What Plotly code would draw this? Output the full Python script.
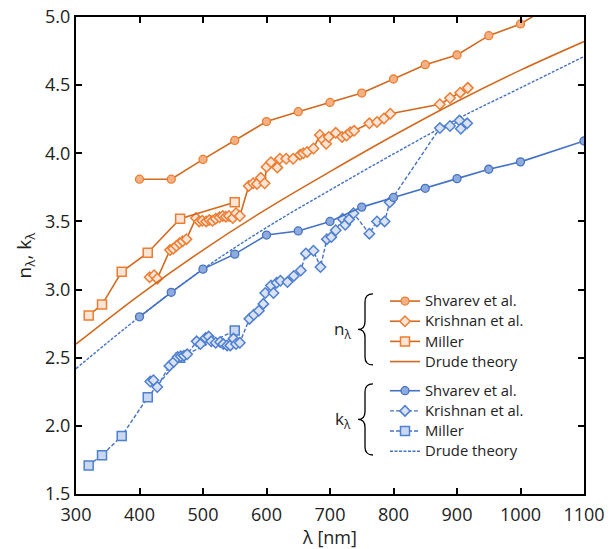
import plotly.graph_objects as go

# ---------------- data ----------------
lam_shv_n = [400, 450, 500, 550, 600, 650, 700, 750, 800, 850, 900, 950, 1000, 1050]
n_shv = [3.81, 3.81, 3.955, 4.094, 4.233, 4.305, 4.373, 4.442, 4.545, 4.65, 4.721, 4.863, 4.949, 5.09]

lam_shv_k = [400, 450, 500, 550, 600, 650, 700, 750, 800, 850, 900, 950, 1000, 1100]
k_shv = [2.80, 2.98, 3.15, 3.26, 3.40, 3.43, 3.50, 3.605, 3.676, 3.743, 3.814, 3.883, 3.937, 4.09]

lam_kri_n = [416, 423, 428, 448, 453, 458, 463, 468, 474, 489, 494, 499, 505, 510, 515, 520, 526, 531,
             536, 541, 547, 552, 558, 572, 579, 585, 591, 597, 600, 607, 617, 621, 631, 642, 653, 658,
             664, 674, 684, 689, 694, 698, 709, 719, 726, 732, 738, 762, 774, 785, 795, 873, 889, 905, 917]
n_kri = [3.09, 3.105, 3.08, 3.29, 3.30, 3.32, 3.34, 3.355, 3.37, 3.525, 3.50, 3.505, 3.50, 3.51, 3.505,
         3.52, 3.53, 3.54, 3.535, 3.54, 3.525, 3.56, 3.54, 3.76, 3.78, 3.775, 3.82, 3.78, 3.90, 3.935,
         3.895, 3.96, 3.96, 3.96, 3.99, 4.00, 4.01, 4.035, 4.135, 4.10, 4.07, 4.12, 4.15, 4.12, 4.13,
         4.155, 4.165, 4.22, 4.23, 4.255, 4.29, 4.36, 4.405, 4.445, 4.48]

lam_kri_k = [417, 422, 428, 447, 454, 460, 465, 470, 475, 490, 496, 504, 509, 513, 520, 527, 532, 538,
             543, 548, 552, 558, 573, 580, 588, 595, 598, 607, 611, 616, 622, 633, 643, 654, 662, 674,
             685, 695, 702, 709, 720, 724, 730, 737, 762, 774, 786, 794, 873, 889, 904, 906, 916]
k_kri = [2.325, 2.335, 2.285, 2.44, 2.47, 2.505, 2.51, 2.515, 2.525, 2.62, 2.60, 2.645, 2.655, 2.62,
         2.61, 2.615, 2.60, 2.59, 2.59, 2.64, 2.60, 2.61, 2.785, 2.815, 2.845, 2.895, 2.975, 3.03,
         2.975, 3.05, 3.065, 3.055, 3.10, 3.14, 3.265, 3.285, 3.165, 3.37, 3.385, 3.435, 3.52, 3.475,
         3.515, 3.56, 3.41, 3.50, 3.50, 3.64, 4.185, 4.20, 4.24, 4.18, 4.22]

lam_mil = [320, 341, 372, 413, 464, 550]
n_mil = [2.81, 2.89, 3.13, 3.27, 3.52, 3.64]
k_mil = [1.71, 1.785, 1.925, 2.21, 2.50, 2.70]

lam_dru = [300, 400, 500, 600, 700, 800, 900, 1000, 1100]
n_dru = [2.60, 2.96, 3.29, 3.59, 3.865, 4.13, 4.38, 4.61, 4.82]
k_dru = [2.42, 2.80, 3.15, 3.455, 3.73, 3.995, 4.25, 4.48, 4.71]

x_ticks = [300, 400, 500, 600, 700, 800, 900, 1000, 1100]
y_ticks = [1.5, 2.0, 2.5, 3.0, 3.5, 4.0, 4.5, 5.0]

# ---------------- styles ----------------
FONT = "Open Sans"
OR_LINE = "#D2691E"
OR_EDGE = "#ED7D31"
BL_LINE = "#4472C4"
BL_EDGE = "#4F7FD0"


def lbl(t):
    return "<span style='font-size:14.8px'>" + t + "</span>"


fig = go.Figure()

# n group
fig.add_trace(go.Scatter(x=lam_shv_n, y=n_shv, mode="lines+markers", name=lbl("Shvarev et al."),
                         legendgroup="n", legendrank=1,
                         line=dict(color=OR_LINE, width=1.6),
                         marker=dict(symbol="circle", size=8, color="#F4B183",
                                     line=dict(color=OR_EDGE, width=1.3))))
fig.add_trace(go.Scatter(x=lam_kri_n, y=n_kri, mode="lines+markers", name=lbl("Krishnan et al."),
                         legendgroup="n", legendrank=2,
                         line=dict(color=OR_LINE, width=1.6),
                         marker=dict(symbol="diamond", size=8, color="#FCE4D6",
                                     line=dict(color=OR_EDGE, width=1.5))))
fig.add_trace(go.Scatter(x=lam_mil, y=n_mil, mode="lines+markers", name=lbl("Miller"),
                         legendgroup="n", legendrank=3,
                         line=dict(color=OR_LINE, width=1.6),
                         marker=dict(symbol="square", size=9, color="#FBE5D6",
                                     line=dict(color=OR_EDGE, width=1.5))))
fig.add_trace(go.Scatter(x=lam_dru, y=n_dru, mode="lines", name=lbl("Drude theory"),
                         legendgroup="n", legendrank=4, line_shape="spline",
                         line=dict(color=OR_LINE, width=1.6)))

# k group
fig.add_trace(go.Scatter(x=lam_dru, y=k_dru, mode="lines", name=lbl("Drude theory"),
                         legendgroup="k", legendrank=8, line_shape="spline",
                         line=dict(color=BL_LINE, width=1.4, dash="3px,1.5px")))
fig.add_trace(go.Scatter(x=lam_mil, y=k_mil, mode="lines+markers", name=lbl("Miller"),
                         legendgroup="k", legendrank=7,
                         line=dict(color=BL_LINE, width=1.4, dash="4px,2px"),
                         marker=dict(symbol="square", size=9, color="#C9D7EF",
                                     line=dict(color=BL_EDGE, width=1.5))))
fig.add_trace(go.Scatter(x=lam_kri_k, y=k_kri, mode="lines+markers", name=lbl("Krishnan et al."),
                         legendgroup="k", legendrank=6,
                         line=dict(color=BL_LINE, width=1.4, dash="4px,2px"),
                         marker=dict(symbol="diamond", size=8, color="#DAE3F3",
                                     line=dict(color=BL_EDGE, width=1.5))))
fig.add_trace(go.Scatter(x=lam_shv_k, y=k_shv, mode="lines+markers", name=lbl("Shvarev et al."),
                         legendgroup="k", legendrank=5,
                         line=dict(color=BL_LINE, width=1.6),
                         marker=dict(symbol="circle", size=8, color="#8FAADC",
                                     line=dict(color=BL_LINE, width=1.3))))

# ---------------- braces (legend decoration) ----------------
def px2x(px):
    return 300 + (px - 76) / 0.635


def py2y(py):
    return 5 - (py - 17.3) / 136.2


def brace(top_py, bot_py, xl_px=358, xm_px=365, xr_px=373, c_px=8):
    mid = (top_py + bot_py) / 2
    xr, xm, xl = px2x(xr_px), px2x(xm_px), px2x(xl_px)
    yt, yb, ym = py2y(top_py), py2y(bot_py), py2y(mid)
    c = c_px / 136.2
    return (f"M {xr},{yt} Q {xm},{yt} {xm},{yt - c} L {xm},{ym + c} "
            f"Q {xm},{ym} {xl},{ym} Q {xm},{ym} {xm},{ym - c} L {xm},{yb + c} "
            f"Q {xm},{yb} {xr},{yb}")


shapes = [
    dict(type="path", xref="x", yref="y", path=brace(294, 365), line=dict(color="black", width=1.3)),
    dict(type="path", xref="x", yref="y", path=brace(384, 455), line=dict(color="black", width=1.3)),
]

annotations = [
    dict(x=px2x(353), y=py2y(329.5), xref="x", yref="y", text="n<sub>λ</sub>", showarrow=False,
         xanchor="right", yanchor="middle", font=dict(family=FONT, size=17, color="#222")),
    dict(x=px2x(353), y=py2y(419.5), xref="x", yref="y", text="k<sub>λ</sub>", showarrow=False,
         xanchor="right", yanchor="middle", font=dict(family=FONT, size=17, color="#222")),
]

fig.update_layout(
    width=613, height=549,
    margin=dict(l=76, r=29, t=17, b=55),
    paper_bgcolor="white", plot_bgcolor="white",
    font=dict(family=FONT, color="#222"),
    shapes=shapes, annotations=annotations,
    legend=dict(x=(385 - 76) / 508, y=(494 - 286) / 477,
                xanchor="left", yanchor="top",
                font=dict(family=FONT, size=13.2, color="#222"),
                tracegroupgap=9, traceorder="grouped", bgcolor="rgba(0,0,0,0)",
                borderwidth=0),
    showlegend=True,
)

fig.update_xaxes(range=[300, 1100], tickvals=x_ticks, ticktext=[str(v) for v in x_ticks],
                 automargin=False,
                 showgrid=False, zeroline=False, showline=True, linecolor="black", linewidth=2,
                 mirror="ticks", ticks="inside", ticklen=6, tickwidth=1.5, tickcolor="black",
                 ticklabelstandoff=3,
                 tickfont=dict(family=FONT, size=18, color="#222"),
                 title=dict(text="λ [nm]", font=dict(family=FONT, size=18, color="#222"), standoff=10))
fig.update_yaxes(range=[1.5, 5.0], tickvals=y_ticks, ticktext=[f"{v:.1f}" for v in y_ticks],
                 automargin=False,
                 showgrid=False, zeroline=False, showline=True, linecolor="black", linewidth=2,
                 mirror="ticks", ticks="inside", ticklen=6, tickwidth=1.5, tickcolor="black",
                 tickfont=dict(family=FONT, size=18, color="#222"),
                 title=dict(text="n<sub>λ</sub>, k<sub>λ</sub>", font=dict(family=FONT, size=19, color="#222"),
                            standoff=8))

fig.write_html("out.html")
